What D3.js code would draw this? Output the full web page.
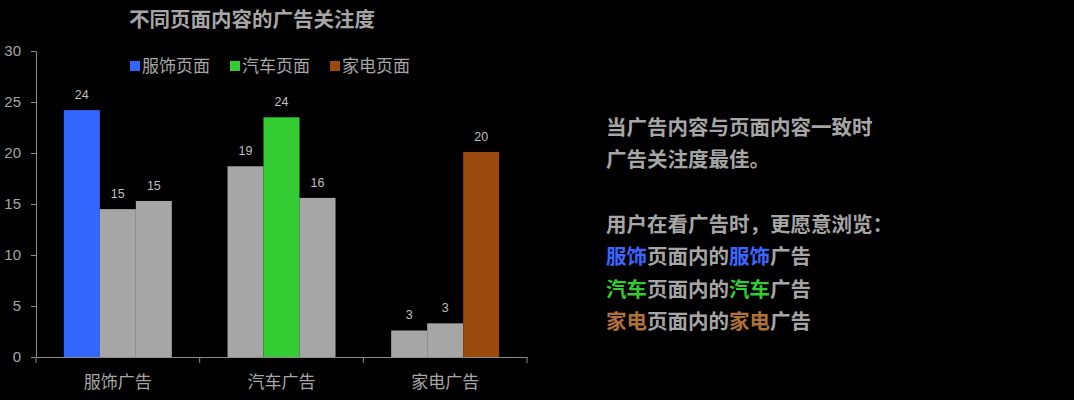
<!DOCTYPE html>
<html>
<head>
<meta charset="utf-8">
<script src="https://cdn.jsdelivr.net/npm/d3@7"></script>
<style>
  html, body { margin: 0; padding: 0; background: #000; }
  svg { display: block; font-family: "Noto Sans CJK SC", "Noto Sans", sans-serif; }
</style>
</head>
<body>
<div id="chart"></div>
<script>
// data
const categories = ['服饰广告', '汽车广告', '家电广告']
const seriesNames = ['服饰页面', '汽车页面', '家电页面']
const seriesColors = ['#3366ff', '#33cc33', '#9a4a0c']
const otherColor = '#a6a6a6'
const clothingPage = [24.2, 18.7, 2.6]
const carPage = [14.5, 23.5, 3.3]
const appliancePage = [15.3, 15.6, 20.1]
const yTicks = [0, 5, 10, 15, 20, 25, 30]

const noteLines = [
  [{t: '当广告内容与页面内容一致时'}],
  [{t: '广告关注度最佳。'}],
  [],
  [{t: '用户在看广告时，更愿意浏览：'}],
  [{t: '服饰', c: '#3b66ff'}, {t: '页面内的'}, {t: '服饰', c: '#3b66ff'}, {t: '广告'}],
  [{t: '汽车', c: '#33cc33'}, {t: '页面内的'}, {t: '汽车', c: '#33cc33'}, {t: '广告'}],
  [{t: '家电', c: '#b07038'}, {t: '页面内的'}, {t: '家电', c: '#b07038'}, {t: '广告'}]
]

const width = 1074,
  height = 400
const plotLeft = 36, plotRight = 527, plotTop = 51, plotBottom = 357
const axisColor = '#8c8c8c'
const textColor = '#a6a6a6'

const series = [clothingPage, carPage, appliancePage]

let svg = d3.select('#chart')
  .append('svg')
  .attr('width', width)
  .attr('height', height)

svg.append('rect').attr('width', width).attr('height', height).attr('fill', '#000')

let x0 = d3.scaleBand()
  .domain(categories)
  .range([plotLeft, plotRight])
  .paddingInner(0.34)
  .paddingOuter(0.17)

let x1 = d3.scaleBand()
  .domain(seriesNames)
  .range([0, x0.bandwidth()])

let y = d3.scaleLinear()
  .domain([0, 30])
  .range([plotBottom, plotTop])

// title
svg.append('text')
  .attr('x', 252)
  .attr('y', 27)
  .attr('text-anchor', 'middle')
  .attr('fill', textColor)
  .attr('font-size', 20.5)
  .attr('font-weight', 'bold')
  .text('不同页面内容的广告关注度')

// bars
let groups = svg.selectAll('g.grp')
  .data(categories)
  .enter()
  .append('g')
  .attr('class', 'grp')
  .attr('transform', d => `translate(${x0(d)},0)`)

let cells = (c, ci) => series.map((s, si) => ({ v: s[ci], si: si, ci: ci }))

groups.selectAll('rect')
  .data(cells)
  .enter()
  .append('rect')
  .attr('x', d => x1(seriesNames[d.si]))
  .attr('y', d => y(d.v))
  .attr('width', x1.bandwidth())
  .attr('height', d => y(0) - y(d.v))
  .attr('fill', d => d.si === d.ci ? seriesColors[d.si] : otherColor)

groups.selectAll('text.lbl')
  .data(cells)
  .enter()
  .append('text')
  .attr('class', 'lbl')
  .attr('x', d => x1(seriesNames[d.si]) + x1.bandwidth() / 2)
  .attr('y', d => y(d.v) - 11)
  .attr('text-anchor', 'middle')
  .attr('fill', '#bfbfbf')
  .attr('font-size', 12.5)
  .attr('font-family', '"Liberation Sans", sans-serif')
  .text(d => Math.round(d.v))

// y axis
let yAxis = svg.append('g')
  .attr('transform', `translate(${plotLeft},0)`)
  .call(d3.axisLeft(y).tickValues(yTicks).tickSize(5).tickSizeOuter(0))
yAxis.select('.domain').attr('stroke', axisColor)
yAxis.selectAll('.tick line').attr('stroke', axisColor)
yAxis.selectAll('.tick text')
  .attr('fill', textColor)
  .attr('font-size', 15)
  .attr('font-family', '"Liberation Sans", sans-serif')
  .attr('x', -15)

// x axis
let xAxis = svg.append('g')
  .attr('transform', `translate(0,${plotBottom})`)
  .call(d3.axisBottom(x0).tickSize(0).tickPadding(19))
xAxis.select('.domain').attr('stroke', axisColor)
xAxis.selectAll('.tick text')
  .attr('fill', textColor)
  .attr('font-size', 17)
  .attr('font-family', '"Noto Sans CJK SC", sans-serif')

xAxis.selectAll('line.sep')
  .data(d3.range(categories.length + 1))
  .enter()
  .append('line')
  .attr('class', 'sep')
  .attr('x1', i => plotLeft + i * (plotRight - plotLeft) / categories.length)
  .attr('x2', i => plotLeft + i * (plotRight - plotLeft) / categories.length)
  .attr('y1', 0)
  .attr('y2', 6)
  .attr('stroke', axisColor)

// legend
const legendX = [130, 230, 330]
let legend = svg.selectAll('g.leg')
  .data(seriesNames)
  .enter()
  .append('g')
  .attr('class', 'leg')
  .attr('transform', (d, i) => `translate(${legendX[i]},61)`)
legend.append('rect')
  .attr('width', 10)
  .attr('height', 10)
  .attr('fill', (d, i) => seriesColors[i])
legend.append('text')
  .attr('x', 12)
  .attr('y', 11)
  .attr('fill', textColor)
  .attr('font-size', 17)
  .text(d => d)

// note on the right
let note = svg.append('text')
  .attr('x', 606)
  .attr('font-size', 20.5)
  .attr('font-weight', 'bold')
  .attr('fill', textColor)
noteLines.forEach((line, i) => {
  line.forEach((seg, j) => {
    let ts = note.append('tspan')
      .attr('fill', seg.c || textColor)
      .text(seg.t)
    if (j === 0) ts.attr('x', 606).attr('y', 135 + i * 32.3)
  })
})
</script>
</body>
</html>
